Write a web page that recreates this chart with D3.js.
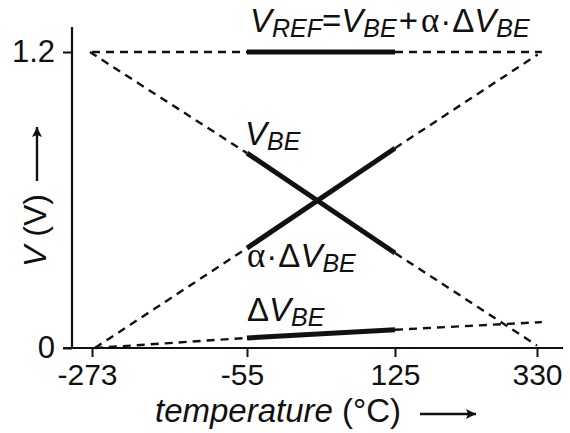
<!DOCTYPE html>
<html>
<head>
  <meta charset="UTF-8" />
  <title>Bandgap reference</title>
  <script src="https://d3js.org/d3.v7.min.js"></script>
  <style>
    body { margin: 0; background: #fff; }
    text { font-family: "Liberation Sans", Arial, sans-serif; fill: #111; }
  </style>
</head>
<body>
  <div id="chart"></div>

  <script>
    // tick values
    const tickTemps = [-273, -55, 125, 330];
    const tickVolts = [0, 1.2];

    // each curve: temperature / voltage at start, -55, 125, end
    const vrefTemps = [-273, -55, 125, 337];
    const vrefVolts = [1.2, 1.2, 1.2, 1.2];

    const vbeTemps = [-276, -55, 125, 330];
    const vbeVolts = [1.2, 0.79, 0.385, 0.01];

    const alphaTemps = [-269, -55, 125, 331];
    const alphaVolts = [0, 0.405, 0.81, 1.19];

    const dvbeTemps = [-269, -55, 125, 337];
    const dvbeVolts = [0, 0.041, 0.074, 0.105];

    const W = 570, H = 433;

    const svg = d3.select("#chart")
      .append("svg")
      .attr("width", W)
      .attr("height", H);

    // schematic axis: ticks are not evenly spaced, so piecewise scale
    const x = d3.scaleLinear()
      .domain(tickTemps)
      .range([92, 247, 395, 537]);
    const y = d3.scaleLinear()
      .domain([0, 1.2])
      .range([348, 52]);

    const x0 = 72;   // y axis position

    // Arrow marker
    svg.append("defs").append("marker")
      .attr("id", "arrow")
      .attr("viewBox", "0 0 10 10")
      .attr("refX", 10)
      .attr("refY", 5)
      .attr("markerWidth", 17)
      .attr("markerHeight", 10)
      .attr("markerUnits", "userSpaceOnUse")
      .attr("orient", "auto")
      .append("path")
      .attr("d", "M0,0 L10,5 L0,10 L2,5 z")
      .attr("fill", "#111");

    // x axis
    const xAxis = d3.axisBottom(x)
      .tickValues(tickTemps)
      .tickSize(9)
      .tickPadding(7)
      .tickFormat(d => String(d));
    const gx = svg.append("g")
      .attr("transform", "translate(0," + y(0) + ")")
      .call(xAxis);
    gx.select(".domain").remove();
    gx.selectAll(".tick line").attr("stroke", "#111").attr("stroke-width", 2);
    gx.selectAll(".tick text")
      .attr("fill", "#111")
      .style("font-size", "30px")
      .attr("dx", d => d < 0 ? -5 : 0);

    svg.append("line")
      .attr("x1", x0 - 9).attr("x2", 563)
      .attr("y1", y(0)).attr("y2", y(0))
      .attr("stroke", "#111").attr("stroke-width", 2.2);

    // y axis
    const yAxis = d3.axisLeft(y)
      .tickValues(tickVolts)
      .tickSize(9)
      .tickPadding(8)
      .tickFormat(d => String(d));
    const gy = svg.append("g")
      .attr("transform", "translate(" + x0 + ",0)")
      .call(yAxis);
    gy.select(".domain").remove();
    gy.selectAll(".tick line").attr("stroke", "#111").attr("stroke-width", 2);
    gy.selectAll(".tick text")
      .attr("fill", "#111")
      .style("font-size", "31px");

    svg.append("line")
      .attr("x1", x0).attr("x2", x0)
      .attr("y1", y(0)).attr("y2", 27)
      .attr("stroke", "#111").attr("stroke-width", 2.2);

    // curves
    const series = [
      { t: vrefTemps, v: vrefVolts },
      { t: vbeTemps, v: vbeVolts },
      { t: alphaTemps, v: alphaVolts },
      { t: dvbeTemps, v: dvbeVolts }
    ];

    const line = d3.line()
      .x(d => x(d[0]))
      .y(d => y(d[1]));

    series.forEach(s => {
      const pts = s.t.map((t, i) => [t, s.v[i]]);
      // dashed extrapolations
      [[pts[0], pts[1]], [pts[2], pts[3]]].forEach(seg => {
        svg.append("path")
          .attr("d", line(seg))
          .attr("fill", "none")
          .attr("stroke", "#111")
          .attr("stroke-width", 2.4)
          .attr("stroke-dasharray", "8,6");
      });
      // solid operating range
      svg.append("path")
        .attr("d", line([pts[1], pts[2]]))
        .attr("fill", "none")
        .attr("stroke", "#111")
        .attr("stroke-width", 5);
    });

    // labels with subscripts
    const mainSize = 33, subSize = 25;
    function label(px, py, parts) {
      const t = svg.append("text")
        .attr("x", px)
        .attr("y", py)
        .style("font-size", mainSize + "px");
      let shifted = false;
      parts.forEach(p => {
        const ts = t.append("tspan").text(p.s);
        if (p.it) ts.style("font-style", "italic");
        if (p.greek) ts.style("font-family", "'Liberation Serif', serif").style("font-size", "35px");
        if (p.dx) ts.attr("dx", p.dx);
        if (p.sub) {
          ts.style("font-size", subSize + "px").attr("dy", 5);
          shifted = true;
        } else if (shifted) {
          ts.attr("dy", -5);
          shifted = false;
        }
      });
      return t;
    }

    label(250, 32, [
      { s: "V", it: true }, { s: "REF", it: true, sub: true },
      { s: "=" }, { s: "V", it: true }, { s: "BE", it: true, sub: true },
      { s: "+", dx: 2 }, { s: "\u03b1", greek: true, dx: 3 }, { s: "\u00b7", dx: 1 },
      { s: "\u0394", dx: 1 }, { s: "V", it: true },
      { s: "BE", it: true, sub: true }
    ]);

    label(x(-55) - 2, 145, [
      { s: "V", it: true }, { s: "BE", it: true, sub: true }
    ]);

    label(x(-55), 267, [
      { s: "\u03b1", greek: true }, { s: "\u00b7", dx: 1 }, { s: "\u0394", dx: 1 },
      { s: "V", it: true }, { s: "BE", it: true, sub: true }
    ]);

    label(x(-55), 321, [
      { s: "\u0394" }, { s: "V", it: true }, { s: "BE", it: true, sub: true }
    ]);

    // axis titles
    const xt = svg.append("text")
      .attr("x", 155)
      .attr("y", 422)
      .style("font-size", "33px");
    xt.append("tspan").style("font-style", "italic").text("temperature");
    xt.append("tspan").text(" (\u00b0C)");

    svg.append("line")
      .attr("x1", 420).attr("x2", 476)
      .attr("y1", 414).attr("y2", 414)
      .attr("stroke", "#111").attr("stroke-width", 2.4)
      .attr("marker-end", "url(#arrow)");

    const yt = svg.append("text")
      .attr("transform", "translate(46,267) rotate(-90)")
      .style("font-size", "32px");
    yt.append("tspan").style("font-style", "italic").text("V");
    yt.append("tspan").text(" (V)");

    svg.append("line")
      .attr("x1", 37).attr("x2", 37)
      .attr("y1", 181).attr("y2", 127)
      .attr("stroke", "#111").attr("stroke-width", 2.4)
      .attr("marker-end", "url(#arrow)");
  </script>
</body>
</html>
